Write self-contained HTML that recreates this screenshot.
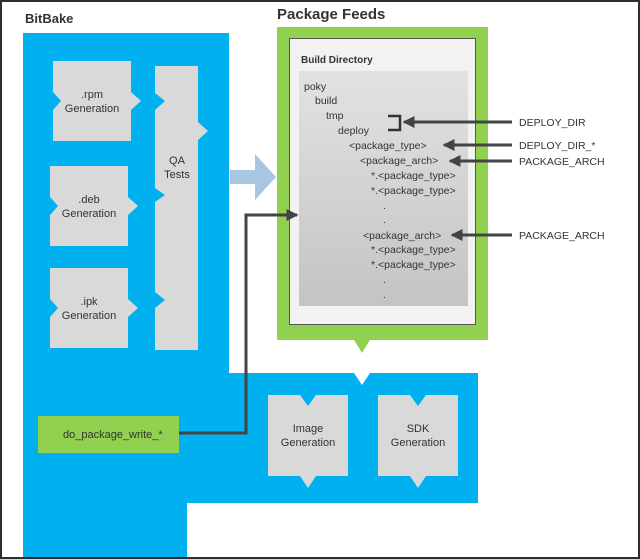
<!DOCTYPE html>
<html><head><meta charset="utf-8"><style>
html,body{margin:0;padding:0;background:#fff}
svg{display:block}
text{font-family:"Liberation Sans",sans-serif;fill:#333}
</style></head><body>
<svg width="640" height="559" viewBox="0 0 640 559" xmlns="http://www.w3.org/2000/svg">
<rect x="0" y="0" width="640" height="559" fill="#fff"/>
<rect x="1" y="1" width="638" height="557" fill="none" stroke="#2b2f33" stroke-width="2"/>
<defs>
<linearGradient id="g" x1="0" y1="0" x2="0" y2="1"><stop offset="0" stop-color="#e2e2e2"/><stop offset="1" stop-color="#c4c4c4"/></linearGradient>
<marker id="ah" markerWidth="4" markerHeight="4" refX="3.5" refY="2" orient="auto" markerUnits="strokeWidth"><path d="M0,0 L4,2 L0,4 z" fill="#444"/></marker>
</defs>
<!-- BitBake -->
<text x="25" y="23" font-size="13" font-weight="bold" fill="#222">BitBake</text>
<path d="M23,33 H229 V373 H478 V503 H187 V557 H23 Z" fill="#00b0ef"/>
<!-- notch in extension -->
<path d="M354,373 L370,373 L362,385 Z" fill="#fff"/>
<!-- left boxes -->
<path d="M53,61 H131 V92 L141,101 L131,110 V141 H53 V110 L61,101 L53,92 Z" fill="#d9d9d9"/>
<text x="92" y="98" font-size="11" text-anchor="middle">.rpm</text><text x="92" y="112" font-size="11" text-anchor="middle">Generation</text>
<path d="M50,166 H128 V197 L138,206 L128,215 V246 H50 V215 L58,206 L50,197 Z" fill="#d9d9d9"/>
<text x="89" y="203" font-size="11" text-anchor="middle">.deb</text><text x="89" y="217" font-size="11" text-anchor="middle">Generation</text>
<path d="M50,268 H128 V299 L138,308 L128,317 V348 H50 V317 L58,308 L50,299 Z" fill="#d9d9d9"/>
<text x="89" y="305" font-size="11" text-anchor="middle">.ipk</text><text x="89" y="319" font-size="11" text-anchor="middle">Generation</text>
<!-- QA -->
<path d="M155,66 H198 V122 L208,131 L198,140 V350 H155 V308 L165,300 L155,292 V202 L165,195 L155,188 V110 L165,101 L155,93 Z" fill="#d9d9d9"/>
<text x="177" y="164" font-size="11" text-anchor="middle">QA</text><text x="177" y="178" font-size="11" text-anchor="middle">Tests</text>
<!-- big arrow -->
<path d="M230,170 H255 V154 L276,177 L255,200 V184 H230 Z" fill="#a7c6e2"/>
<!-- Package feeds -->
<text x="277" y="19" font-size="15" font-weight="bold" fill="#222">Package Feeds</text>
<path d="M277,27 H488 V340 H370 L362,353 L354,340 H277 Z" fill="#92d050"/>
<rect x="289.5" y="38.5" width="186" height="286" fill="#f2f2f2" stroke="#555" stroke-width="1"/>
<text x="301" y="63" font-size="10" font-weight="bold" fill="#222">Build Directory</text>
<rect x="299" y="71" width="169" height="235" fill="url(#g)"/>
<g font-size="10.5">
<text x="304" y="90">poky</text>
<text x="315" y="104">build</text>
<text x="326" y="119">tmp</text>
<text x="338" y="134">deploy</text>
<text x="349" y="149">&lt;package_type&gt;</text>
<text x="360" y="164">&lt;package_arch&gt;</text>
<text x="371" y="179">*.&lt;package_type&gt;</text>
<text x="371" y="194">*.&lt;package_type&gt;</text>
<text x="383" y="209">.</text>
<text x="383" y="223">.</text>
<text x="363" y="239">&lt;package_arch&gt;</text>
<text x="371" y="253">*.&lt;package_type&gt;</text>
<text x="371" y="268">*.&lt;package_type&gt;</text>
<text x="383" y="283">.</text>
<text x="383" y="298">.</text>
</g>
<!-- bracket & arrows -->
<path d="M388,116 H400 V130 H388" fill="none" stroke="#333" stroke-width="2.5"/>
<g stroke="#444" stroke-width="3" fill="none">
<line x1="512" y1="122" x2="404" y2="122" marker-end="url(#ah)"/>
<line x1="512" y1="145" x2="444" y2="145" marker-end="url(#ah)"/>
<line x1="512" y1="161" x2="450" y2="161" marker-end="url(#ah)"/>
<line x1="512" y1="235" x2="452" y2="235" marker-end="url(#ah)"/>
<polyline points="179,433 246,433 246,215 297,215" marker-end="url(#ah)"/>
</g>
<g font-size="10.5">
<text x="519" y="126">DEPLOY_DIR</text>
<text x="519" y="149">DEPLOY_DIR_*</text>
<text x="519" y="165">PACKAGE_ARCH</text>
<text x="519" y="239">PACKAGE_ARCH</text>
</g>
<!-- do_package_write -->
<rect x="38" y="416" width="141" height="37" fill="#92d050"/>
<text x="63" y="438" font-size="11" fill="#222">do_package_write_*</text>
<!-- image/sdk -->
<path d="M268,395 L300,395 L308,406 L316,395 H348 V476 H316 L308,488 L300,476 H268 Z" fill="#d9d9d9"/>
<text x="308" y="432" font-size="11" text-anchor="middle">Image</text><text x="308" y="446" font-size="11" text-anchor="middle">Generation</text>
<path d="M378,395 L410,395 L418,406 L426,395 H458 V476 H426 L418,488 L410,476 H378 Z" fill="#d9d9d9"/>
<text x="418" y="432" font-size="11" text-anchor="middle">SDK</text><text x="418" y="446" font-size="11" text-anchor="middle">Generation</text>
</svg>
</body></html>
